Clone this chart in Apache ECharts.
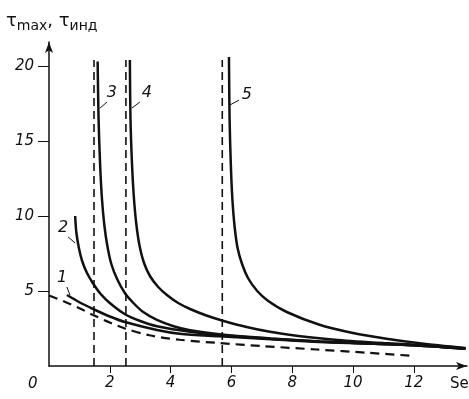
<!DOCTYPE html>
<html style="height: 100%">
<head>
    <meta charset="utf-8">
    <title>tau max / tau ind</title>
    <script type="text/javascript" src="https://cdn.jsdelivr.net/npm/echarts@6/dist/echarts.min.js"></script>
</head>
<body style="height: 100%; margin: 0; background: #fff">
    <div id="container" style="width: 469px; height: 399px"></div>
    <script type="text/javascript">
        // кривые 1..5 (сплошные) и индукция (штриховая), точки [x, y]
        var curve1 = [[0.59,4.73],[1,4.25],[1.45,3.8],[2,3.3],[2.5,2.93],[3.55,2.4],[4.3,2.15],[5.6,1.98],[7.3,1.78],[8.9,1.6],[10.5,1.5],[12,1.38],[13.7,1.15]];
        var curve2 = [[0.86,10],[0.9,8.9],[0.98,7.9],[1.09,7.0],[1.25,6.2],[1.45,5.5],[1.7,4.8],[2,4.2],[2.5,3.45],[3,3.0],[3.55,2.65],[4.64,2.28],[5.6,2.07],[7.3,1.82],[8.9,1.63],[10.5,1.5],[12,1.38],[13.7,1.15]];
        var curve3 = [[1.6,20.3],[1.63,16.5],[1.68,13.5],[1.74,11.2],[1.82,9.4],[1.92,8.0],[2.05,6.8],[2.24,5.8],[2.5,4.85],[2.8,4.15],[3.1,3.6],[3.55,3.07],[4.1,2.65],[4.64,2.38],[5.6,2.12],[7.3,1.84],[8.9,1.64],[10.5,1.5],[12,1.38],[13.7,1.15]];
        var curve4 = [[2.66,20.4],[2.68,16.5],[2.73,13.5],[2.79,11.3],[2.87,9.5],[2.98,8.0],[3.12,6.9],[3.32,6.0],[3.6,5.25],[3.9,4.7],[4.25,4.2],[4.64,3.8],[5.2,3.35],[5.72,3.02],[6.5,2.6],[7.27,2.28],[8.2,2.0],[9.5,1.74],[11,1.53],[12.5,1.36],[13.7,1.17]];
        var curve5 = [[5.92,20.6],[5.94,16.5],[5.98,13.5],[6.03,11.2],[6.1,9.4],[6.2,7.9],[6.35,6.8],[6.55,5.85],[6.85,5.0],[7.2,4.35],[7.82,3.6],[8.9,2.75],[10,2.2],[11.1,1.82],[12.2,1.52],[13.7,1.2]];
        var induction = [[0,4.7],[0.5,4.3],[1,3.85],[1.45,3.4],[2,2.9],[2.5,2.5],[3.3,2.05],[4.3,1.75],[5.6,1.53],[7,1.33],[8.8,1.1],[10.5,0.88],[12,0.67]];
        // вертикальные асимптоты (штрих)
        var asymX = [1.48, 2.53, 5.7];
        var asymTop = 20.4;
        // номера кривых и выноски
        var curveNames = ['1', '2', '3', '4', '5'];
        var namePos = [[0.43,5.9],[0.46,9.2],[2.07,18.2],[3.22,18.2],[6.51,18.1]];
        var leaders = [
            [[0.59,5.27],[0.69,4.73]],
            [[0.63,8.6],[0.86,8.2]],
            [[1.68,17.2],[1.91,17.6]],
            [[2.73,17.2],[2.99,17.6]],
            [[5.95,17.4],[6.25,17.73]]
        ];
        var xTicks = [2, 4, 6, 8, 10, 12];
        var yTicks = [5, 10, 15, 20];

        var dom = document.getElementById('container');
        var myChart = echarts.init(dom);
        var ink = '#111';
        var labelFont = { color: ink, fontSize: 15, fontStyle: 'italic', fontFamily: 'DejaVu Sans' };

        var series = [];
        [curve1, curve2, curve3, curve4, curve5].forEach(function (c, i) {
            series.push({
                type: 'line',
                data: c,
                symbol: 'none',
                smooth: 0.3,
                lineStyle: { color: ink, width: 2.5 },
                markLine: {
                    silent: true,
                    symbol: 'none',
                    label: { show: false },
                    lineStyle: { color: ink, width: 1, type: 'solid' },
                    data: [[{ coord: leaders[i][0] }, { coord: leaders[i][1] }]]
                }
            });
        });
        series.push({
            type: 'line',
            data: induction,
            symbol: 'none',
            smooth: 0.3,
            lineStyle: { color: ink, width: 2.2, type: [9, 6] }
        });
        asymX.forEach(function (x) {
            series.push({
                type: 'line',
                data: [[x, 0], [x, asymTop]],
                symbol: 'none',
                lineStyle: { color: ink, width: 1.6, type: [8, 5] }
            });
        });
        // подписи кривых
        series.push({
            type: 'scatter',
            symbolSize: 0,
            itemStyle: { opacity: 1, color: ink },
            data: namePos.map(function (p, i) { return { value: p, name: curveNames[i] }; }),
            label: {
                show: true,
                position: 'inside',
                formatter: '{b}',
                color: ink,
                fontSize: 16,
                fontStyle: 'italic',
                fontFamily: 'DejaVu Sans'
            }
        });

        var option = {
            animation: false,
            backgroundColor: '#fff',
            grid: { left: 49, right: 2, top: 42, bottom: 33 },
            xAxis: {
                type: 'value',
                min: 0,
                max: 13.75,
                interval: 2,
                axisLine: { lineStyle: { color: ink, width: 1.5 }, symbol: ['none', 'arrow'], symbolSize: [6, 11] },
                axisTick: { length: 7, lineStyle: { color: ink }, customValues: xTicks },
                axisLabel: Object.assign({ margin: 10, customValues: xTicks }, labelFont),
                splitLine: { show: false }
            },
            yAxis: {
                type: 'value',
                min: 0,
                max: 21.6,
                interval: 5,
                axisLine: { show: true, lineStyle: { color: ink, width: 1.5 }, symbol: ['none', 'arrow'], symbolSize: [6, 11] },
                axisTick: { show: true, length: 11, lineStyle: { color: ink }, customValues: yTicks },
                axisLabel: Object.assign({ margin: 15, customValues: yTicks }, labelFont),
                splitLine: { show: false }
            },
            graphic: [
                {
                    type: 'text', left: 6, top: 12,
                    style: {
                        text: '{t|τ}{s|max}{t|, τ}{s|инд}',
                        rich: {
                            t: { fontSize: 18, fontFamily: 'DejaVu Sans', fill: ink },
                            s: { fontSize: 14, fontFamily: 'DejaVu Sans', fill: ink, padding: [10, 0, 0, 0] }
                        }
                    }
                },
                { type: 'text', left: 28, top: 377, style: { text: '0', fontSize: 15, fontStyle: 'italic', fontFamily: 'DejaVu Sans', fill: ink } },
                { type: 'text', left: 450, top: 377, style: { text: 'Se', fontSize: 15, fontFamily: 'DejaVu Sans', fill: ink } }
            ],
            series: series
        };
        myChart.setOption(option);
    </script>
</body>
</html>
